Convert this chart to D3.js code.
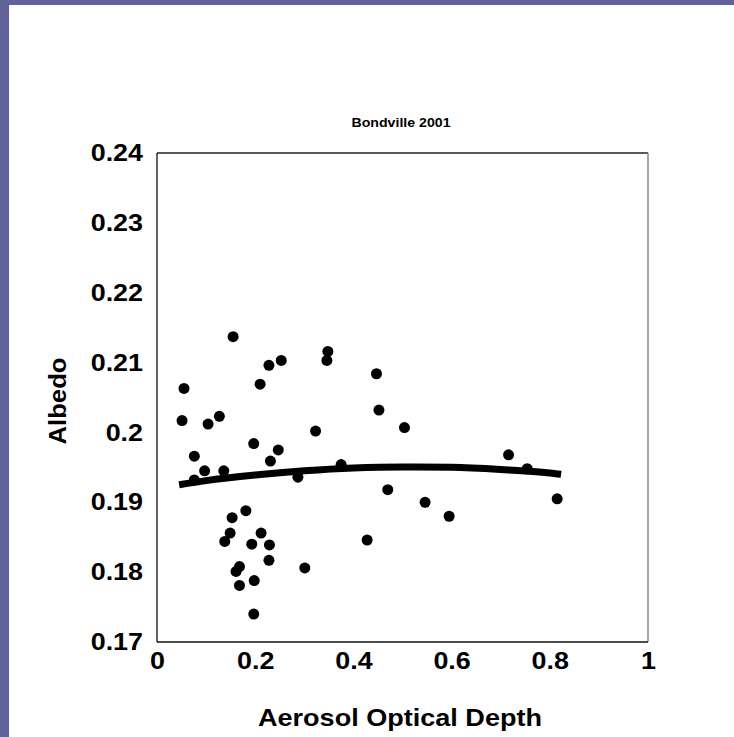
<!DOCTYPE html>
<html><head><meta charset="utf-8">
<script src="https://cdn.jsdelivr.net/npm/d3@7"></script>
<style>html,body{margin:0;padding:0;background:#5f6399;}svg{display:block;}</style>
</head><body>
<script>
const aod = [0.155,0.055,0.051,0.104,0.127,0.076,0.097,0.136,0.076,0.210,0.228,0.253,0.348,0.346,0.447,0.452,0.197,0.247,0.231,0.323,0.287,0.375,0.470,0.504,0.716,0.754,0.546,0.595,0.815,0.181,0.153,0.149,0.138,0.212,0.193,0.229,0.228,0.428,0.301,0.168,0.161,0.168,0.198,0.197];
const albedo = [0.2137,0.2063,0.2017,0.2012,0.2023,0.1966,0.1945,0.1945,0.1932,0.2069,0.2096,0.2103,0.2116,0.2103,0.2084,0.2032,0.1984,0.1975,0.1959,0.2002,0.1936,0.1954,0.1918,0.2007,0.1968,0.1948,0.1900,0.1880,0.1905,0.1888,0.1878,0.1856,0.1844,0.1856,0.1840,0.1839,0.1817,0.1846,0.1806,0.1808,0.1801,0.1781,0.1788,0.1740];
const trendX = [0.045,0.1,0.2,0.3,0.4,0.5,0.6,0.7,0.8,0.823];
const trendY = [0.1925,0.1931,0.1939,0.1945,0.1949,0.19505,0.1950,0.1947,0.1942,0.1940];
const xTicks = [0,0.2,0.4,0.6,0.8,1];
const yTicks = [0.17,0.18,0.19,0.2,0.21,0.22,0.23,0.24];
const title = "Bondville 2001", xTitle = "Aerosol Optical Depth", yTitle = "Albedo";

const W = 734, H = 737;
const svg = d3.select("body").append("svg").attr("width", W).attr("height", H);
svg.append("rect").attr("x",0).attr("y",0).attr("width",W).attr("height",H).attr("fill","#5f6399");
svg.append("rect").attr("x",9).attr("y",5).attr("width",W-9).attr("height",H-5).attr("fill","#fff");

const L = 157, R = 648, T = 153, B = 642;
const x = d3.scaleLinear().domain([0,1]).range([L,R]);
const y = d3.scaleLinear().domain([0.17,0.24]).range([B,T]);
const font = "'Liberation Sans', Arial, sans-serif";

function stretch(sel, f) {
  sel.each(function(){
    const w = this.getComputedTextLength();
    d3.select(this).attr("textLength", w*f).attr("lengthAdjust","spacingAndGlyphs");
  });
}

// frame
svg.append("line").attr("x1",L).attr("x2",R).attr("y1",T).attr("y2",T).attr("stroke","#222").attr("stroke-width",1.3);
svg.append("line").attr("x1",R).attr("x2",R).attr("y1",T).attr("y2",B).attr("stroke","#888").attr("stroke-width",1.5);
svg.append("line").attr("x1",L).attr("x2",L).attr("y1",T).attr("y2",B).attr("stroke","#111").attr("stroke-width",1.3);
svg.append("line").attr("x1",L).attr("x2",R).attr("y1",B).attr("y2",B).attr("stroke","#111").attr("stroke-width",1.3);

// axes (labels only)
const yAxis = d3.axisLeft(y).tickValues(yTicks).tickSize(0).tickPadding(14).tickFormat(d3.format("~g"));
const gy = svg.append("g").attr("transform",`translate(${L},0)`).call(yAxis);
gy.select(".domain").remove();
gy.selectAll("text").attr("font-family",font).attr("font-size",24).attr("font-weight","bold").attr("fill","#000").call(stretch,1.12);

const xAxis = d3.axisBottom(x).tickValues(xTicks).tickSize(0).tickPadding(10).tickFormat(d3.format("~g"));
const gx = svg.append("g").attr("transform",`translate(0,${B})`).call(xAxis);
gx.select(".domain").remove();
gx.selectAll("text").attr("font-family",font).attr("font-size",24).attr("font-weight","bold").attr("fill","#000").call(stretch,1.12);

// points
svg.append("g").selectAll("circle").data(aod.map((a,i)=>[a,albedo[i]])).join("circle")
  .attr("cx",d=>x(d[0])).attr("cy",d=>y(d[1])).attr("r",5.5).attr("fill","#000");

// trend line
const line = d3.line().x(d=>x(d[0])).y(d=>y(d[1])).curve(d3.curveMonotoneX);
svg.append("path").datum(trendX.map((a,i)=>[a,trendY[i]])).attr("d",line)
  .attr("fill","none").attr("stroke","#000").attr("stroke-width",7);

// titles
svg.append("text").attr("x",401).attr("y",127).attr("text-anchor","middle")
  .attr("font-family",font).attr("font-size",13).attr("font-weight","bold").text(title)
  .attr("textLength",99).attr("lengthAdjust","spacingAndGlyphs");
svg.append("text").attr("x",400).attr("y",726).attr("text-anchor","middle")
  .attr("font-family",font).attr("font-size",24).attr("font-weight","bold").text(xTitle)
  .attr("textLength",284).attr("lengthAdjust","spacingAndGlyphs");
svg.append("text").attr("transform","translate(66,401) rotate(-90)").attr("text-anchor","middle")
  .attr("font-family",font).attr("font-size",24).attr("font-weight","bold").text(yTitle)
  .attr("textLength",87).attr("lengthAdjust","spacingAndGlyphs");
</script>
</body></html>
